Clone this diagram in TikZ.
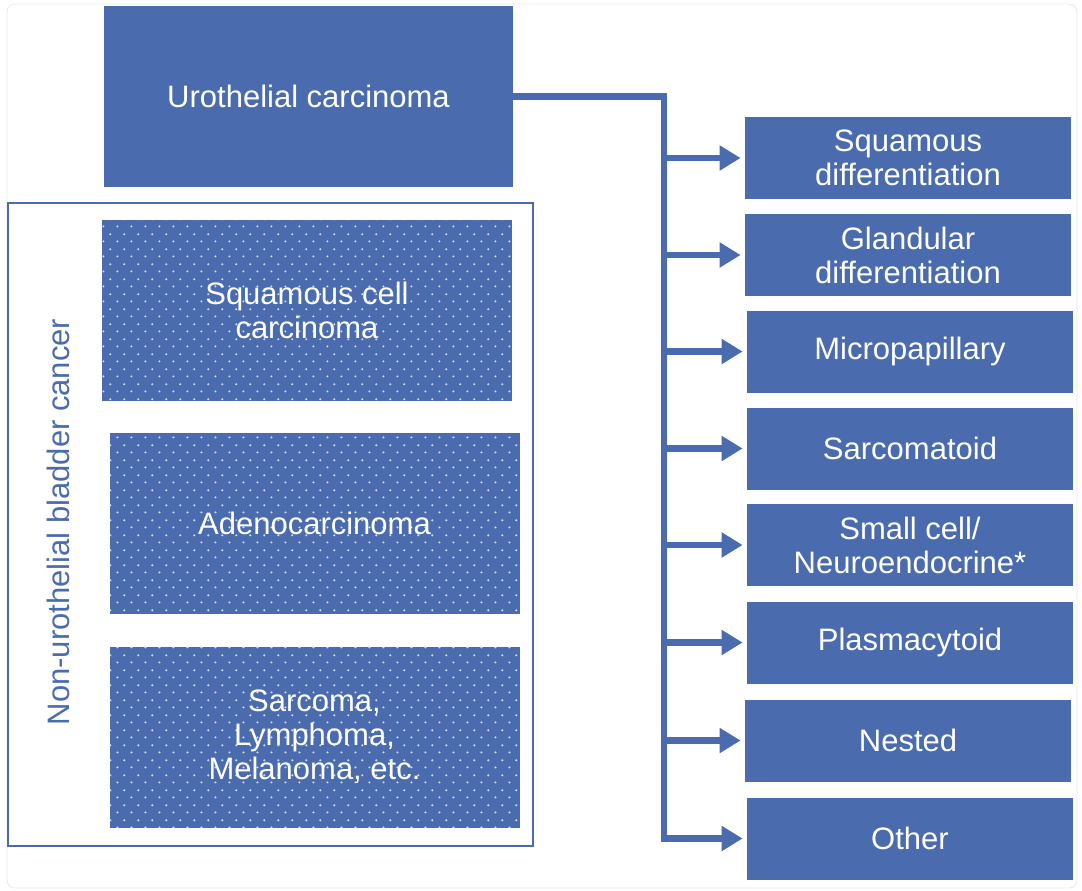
\documentclass[tikz,border=0pt]{standalone}
\usepackage{fontspec}
\setmainfont{Liberation Sans}
\usetikzlibrary{arrows.meta,patterns.meta}
\definecolor{uroblue}{HTML}{4A6BAD}
\definecolor{dotcol}{HTML}{D2DBEE}
\tikzdeclarepattern{name=pindots, type=uncolored,
  bounding box={(0pt,0pt) and (7.15pt,7.5pt)}, tile size={(7.15pt,7.5pt)},
  code={\fill (1.8pt,1.9pt) circle (0.6pt); \fill (5.375pt,5.65pt) circle
  (0.6pt);}}

\begin{document}
\begin{tikzpicture}[x=0.5pt,y=-0.5pt, every node/.style={font=\fontsize{15.5}{17}\selectfont,
  align=center,text=white,inner sep=0pt},
  sub/.style={fill=uroblue,minimum width=163pt,minimum height=41pt},
  main/.style={fill=uroblue,minimum width=204.5pt,minimum height=90.5pt},
  dotbox/.style={preaction={fill=uroblue},pattern=pindots,pattern color=dotcol,
  minimum width=205pt,minimum height=90.5pt},
  frame/.style={draw=uroblue,line width=1pt,minimum width=262.5pt,minimum height=321.5pt},
  link/.style={draw=uroblue,line width=3.3pt},
  arr/.style={link,-{Triangle[length=10.5pt,width=12pt]},shorten >=2pt}]
\useasboundingbox (0,0) rectangle (1082,890);
\draw[black!9,rounded corners=4pt] (7,4) rectangle (1077,888);
\node[main] (uro) at (308.5,96.5) {Urothelial carcinoma};
\node[frame] (nonuro) at (270.5,524.5) {};
\node[rotate=90,text=uroblue] (nonlab) at (58,522) {Non-urothelial bladder cancer};
\node[dotbox] (scc) at (307,310.5) {Squamous cell\\carcinoma};
\node[dotbox] (adeno) at (314.5,523) {Adenocarcinoma};
\node[dotbox] (sarc) at (314.5,737) {Sarcoma,\\Lymphoma,\\Melanoma, etc.};
\node[sub] (sqd) at (908,158) {Squamous\\differentiation};
\node[sub] (gld) at (908,255) {Glandular\\differentiation};
\node[sub] (mpap) at (910,351.5) {Micropapillary};
\node[sub] (sarcd) at (910,448.5) {Sarcomatoid};
\node[sub] (small) at (910,545) {Small cell/\\Neuroendocrine*};
\node[sub] (plasma) at (910,642.5) {Plasmacytoid};
\node[sub] (nest) at (908,740.5) {Nested};
\node[sub] (oth) at (910,838.5) {Other};
\coordinate (trunk) at (664,96.5);
\draw[arr] (uro.east) -- (trunk) -- (trunk |- oth.west) -- (oth.west);
\draw[arr] (trunk |- sqd.west) -- (sqd.west);
\draw[arr] (trunk |- gld.west) -- (gld.west);
\draw[arr] (trunk |- mpap.west) -- (mpap.west);
\draw[arr] (trunk |- sarcd.west) -- (sarcd.west);
\draw[arr] (trunk |- small.west) -- (small.west);
\draw[arr] (trunk |- plasma.west) -- (plasma.west);
\draw[arr] (trunk |- nest.west) -- (nest.west);
\end{tikzpicture}
\end{document}
